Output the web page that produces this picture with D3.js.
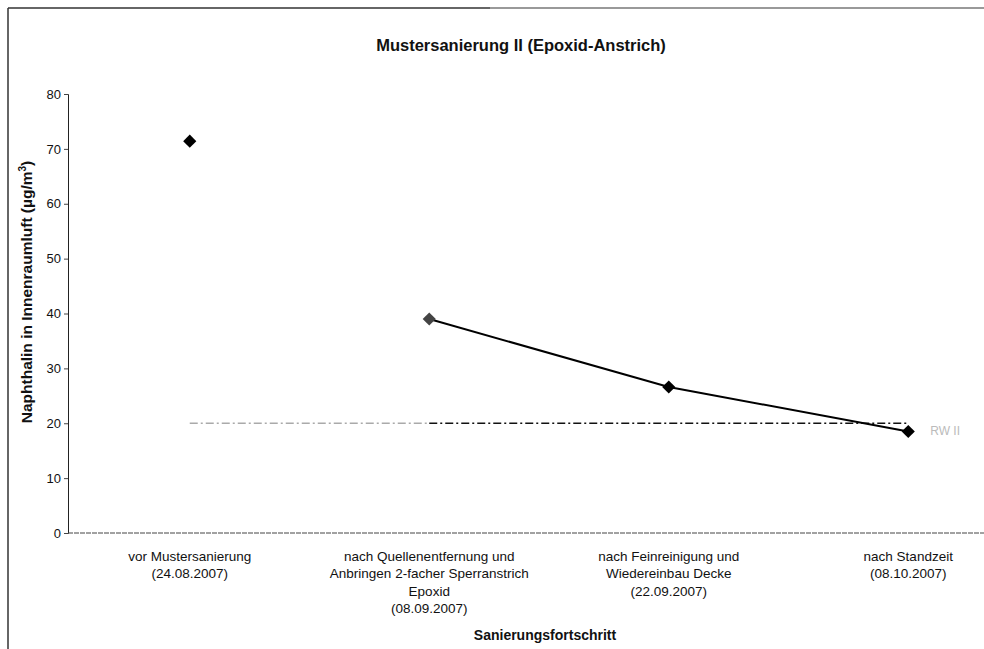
<!DOCTYPE html>
<html>
<head>
<meta charset="utf-8">
<script src="https://cdn.jsdelivr.net/npm/d3@7"></script>
<style>
  body { margin: 0; background: #fff; }
  svg { font-family: "Liberation Sans", Arial, sans-serif; }
</style>
</head>
<body>
<div id="chart"></div>
<script>
// values
var categories = ["vor", "quelle", "fein", "stand"];
var categoryLines = [
  ["vor Mustersanierung", "(24.08.2007)"],
  ["nach Quellenentfernung und", "Anbringen 2-facher Sperranstrich", "Epoxid", "(08.09.2007)"],
  ["nach Feinreinigung und", "Wiedereinbau Decke", "(22.09.2007)"],
  ["nach Standzeit", "(08.10.2007)"]
];
var naphthalin = [71.4, 39.0, 26.6, 18.5];
var richtwert = [20, 20, 20, 20];
var yTicks = [0, 10, 20, 30, 40, 50, 60, 70, 80];

var svgWidth = 984;
var svgHeight = 649;

var svg = d3.select("#chart")
  .append("svg")
  .attr("width", svgWidth)
  .attr("height", svgHeight);

// chart frame (only top and left visible in the scan, right half faded)
svg.append("line")
  .attr("x1", 8).attr("y1", 8).attr("x2", 490).attr("y2", 8)
  .attr("stroke", "#333").attr("stroke-width", 1.5);
svg.append("line")
  .attr("x1", 490).attr("y1", 8).attr("x2", 984).attr("y2", 8)
  .attr("stroke", "#999").attr("stroke-width", 2);
svg.append("line")
  .attr("x1", 8).attr("y1", 8).attr("x2", 8).attr("y2", 649)
  .attr("stroke", "#333").attr("stroke-width", 1.5);

var xScale = d3.scaleBand()
  .domain(categories)
  .range([70, 1028])
  .padding(0);

var yScale = d3.scaleLinear()
  .domain([0, 80])
  .range([533, 94]);

var xc = d => xScale(d) + xScale.bandwidth() / 2;

// y axis
var leftAxis = d3.axisLeft(yScale)
  .tickValues(yTicks)
  .tickSize(4)
  .tickPadding(3);

var yAxisG = svg.append("g")
  .attr("transform", "translate(68, 0)")
  .call(leftAxis);
yAxisG.select(".domain").attr("stroke", "#222");
yAxisG.selectAll(".tick line").attr("stroke", "#444");
yAxisG.selectAll(".tick text")
  .attr("font-size", 13)
  .attr("font-family", "Liberation Sans, Arial, sans-serif")
  .attr("fill", "#111");

// x axis
var bottomAxis = d3.axisBottom(xScale).tickSize(0).tickFormat("");
var xAxisG = svg.append("g")
  .attr("transform", "translate(0, 533)")
  .call(bottomAxis);
xAxisG.select(".domain")
  .attr("d", "M68,0H984")
  .attr("stroke", "#444")
  .attr("stroke-dasharray", "5,1");

// multi-line category labels
xAxisG.selectAll(".tick").each(function(d, i) {
  var t = d3.select(this).append("text")
    .attr("fill", "#111")
    .attr("font-size", 13.5)
    .attr("text-anchor", "middle")
    .attr("y", 28);
  categoryLines[i].forEach(function(line, j) {
    t.append("tspan")
      .attr("x", 0)
      .attr("dy", j === 0 ? 0 : 17.4)
      .text(line);
  });
});

// reference value line (RW II), left part faded as in the scan
svg.append("path")
  .datum(richtwert.slice(0, 2))
  .attr("d", d3.line()
    .x((d, i) => xc(categories[i]))
    .y(d => yScale(d)))
  .attr("fill", "none")
  .attr("stroke", "#aaa")
  .attr("stroke-width", 1.5)
  .attr("stroke-dasharray", "8,3,2,3");

svg.append("path")
  .datum(richtwert)
  .attr("d", d3.line()
    .defined((d, i) => i >= 1)
    .x((d, i) => xc(categories[i]))
    .y(d => yScale(d)))
  .attr("fill", "none")
  .attr("stroke", "#111")
  .attr("stroke-width", 1.5)
  .attr("stroke-dasharray", "8,3,2,3");

svg.append("text")
  .attr("x", xc(categories[3]) + 22)
  .attr("y", yScale(richtwert[3]) + 12)
  .attr("font-size", 12)
  .attr("fill", "#bbb")
  .text("RW II");

// measured series: line only from the second measurement on
var valueLine = d3.line()
  .defined((d, i) => i >= 1)
  .x((d, i) => xc(categories[i]))
  .y(d => yScale(d));

svg.append("path")
  .datum(naphthalin)
  .attr("d", valueLine)
  .attr("fill", "none")
  .attr("stroke", "#000")
  .attr("stroke-width", 2);

svg.selectAll(".marker")
  .data(naphthalin)
  .enter()
  .append("path")
  .attr("class", "marker")
  .attr("d", d3.symbol().type(d3.symbolDiamond2).size(110))
  .attr("transform", (d, i) => `translate(${xc(categories[i])}, ${yScale(d)})`)
  .attr("fill", (d, i) => i === 1 ? "#444" : "#000");

// titles
svg.append("text")
  .attr("x", 521)
  .attr("y", 51)
  .attr("text-anchor", "middle")
  .attr("font-size", 16.5)
  .attr("font-weight", "bold")
  .attr("fill", "#111")
  .text("Mustersanierung II (Epoxid-Anstrich)");

svg.append("text")
  .attr("transform", "translate(32, 292) rotate(-90)")
  .attr("text-anchor", "middle")
  .attr("font-size", 15.5)
  .attr("font-weight", "bold")
  .attr("fill", "#111")
  .text("Naphthalin in Innenraumluft (µg/m")
  .append("tspan")
  .attr("dy", -6)
  .attr("font-size", 10)
  .text("3")
  .clone(true)
  .attr("dy", 6)
  .attr("font-size", 15.5)
  .text(")");

svg.append("text")
  .attr("x", 545)
  .attr("y", 640)
  .attr("text-anchor", "middle")
  .attr("font-size", 14)
  .attr("font-weight", "bold")
  .attr("fill", "#111")
  .text("Sanierungsfortschritt");
</script>
</body>
</html>
